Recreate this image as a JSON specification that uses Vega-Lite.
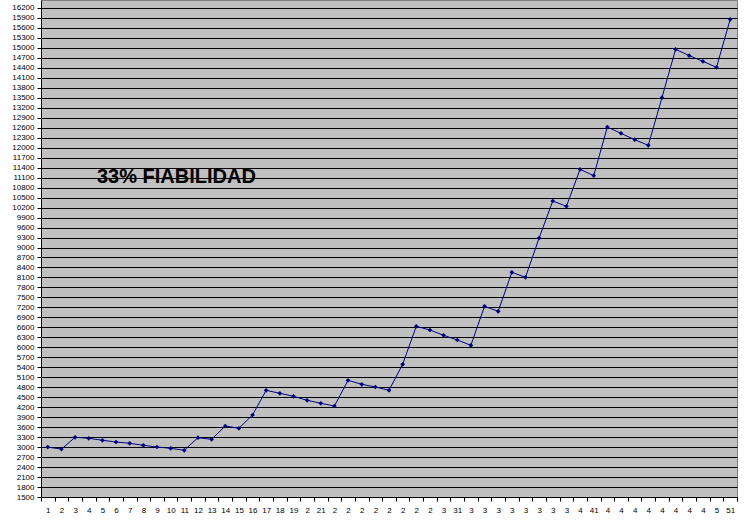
{
  "$schema": "https://vega.github.io/schema/vega-lite/v6.json",
  "width": 696,
  "height": 497,
  "autosize": {"type": "none"},
  "padding": {"left": 41, "top": 0, "right": 7, "bottom": 23},
  "background": "#ffffff",
  "config": {"view": {"fill": "#C0C0C0", "stroke": "#808080", "strokeWidth": 1}},
  "layer": [
    {
      "data": {"values": [
        {"n": 1, "v": 3000}, {"n": 2, "v": 2940}, {"n": 3, "v": 3295}, {"n": 4, "v": 3265}, {"n": 5, "v": 3205},
        {"n": 6, "v": 3153}, {"n": 7, "v": 3114}, {"n": 8, "v": 3054}, {"n": 9, "v": 3003}, {"n": 10, "v": 2964},
        {"n": 11, "v": 2904}, {"n": 12, "v": 3283}, {"n": 13, "v": 3234}, {"n": 14, "v": 3634}, {"n": 15, "v": 3565},
        {"n": 16, "v": 3965}, {"n": 17, "v": 4707}, {"n": 18, "v": 4617}, {"n": 19, "v": 4527}, {"n": 20, "v": 4407},
        {"n": 21, "v": 4317}, {"n": 22, "v": 4235}, {"n": 23, "v": 5008}, {"n": 24, "v": 4888}, {"n": 25, "v": 4807},
        {"n": 26, "v": 4707}, {"n": 27, "v": 5489}, {"n": 28, "v": 6631}, {"n": 29, "v": 6520}, {"n": 30, "v": 6361},
        {"n": 31, "v": 6220}, {"n": 32, "v": 6060}, {"n": 33, "v": 7232}, {"n": 34, "v": 7082}, {"n": 35, "v": 8254},
        {"n": 36, "v": 8104}, {"n": 37, "v": 9286}, {"n": 38, "v": 10398}, {"n": 39, "v": 10238}, {"n": 40, "v": 11351},
        {"n": 41, "v": 11159}, {"n": 42, "v": 12622}, {"n": 43, "v": 12432}, {"n": 44, "v": 12241}, {"n": 45, "v": 12072},
        {"n": 46, "v": 13503}, {"n": 47, "v": 14958}, {"n": 48, "v": 14767}, {"n": 49, "v": 14597}, {"n": 50, "v": 14417},
        {"n": 51, "v": 15860}
      ]},
      "mark": {
        "type": "line",
        "color": "#000080",
        "strokeWidth": 1,
        "point": {"shape": "diamond", "size": 22, "filled": true, "color": "#000080"}
      },
      "encoding": {
        "x": {
          "field": "n",
          "type": "quantitative",
          "scale": {"domain": [0.5, 51.5], "nice": false, "zero": false},
          "axis": {
            "title": null,
            "grid": false,
            "tickCount": 200,
            "values": [0.5,1,1.5,2,2.5,3,3.5,4,4.5,5,5.5,6,6.5,7,7.5,8,8.5,9,9.5,10,10.5,11,11.5,12,12.5,13,13.5,14,14.5,15,15.5,16,16.5,17,17.5,18,18.5,19,19.5,20,20.5,21,21.5,22,22.5,23,23.5,24,24.5,25,25.5,26,26.5,27,27.5,28,28.5,29,29.5,30,30.5,31,31.5,32,32.5,33,33.5,34,34.5,35,35.5,36,36.5,37,37.5,38,38.5,39,39.5,40,40.5,41,41.5,42,42.5,43,43.5,44,44.5,45,45.5,46,46.5,47,47.5,48,48.5,49,49.5,50,50.5,51,51.5],
            "domainColor": "#000000",
            "domainWidth": 1,
            "tickColor": "#000000",
            "tickSize": 4,
            "tickOpacity": {"condition": {"test": "datum.value % 1 == 0", "value": 0}, "value": 1},
            "labelExpr": "datum.value % 1 != 0 ? '' : ((datum.value >= 20 && datum.value % 10 != 1) ? '' + floor(datum.value / 10) : '' + datum.value)",
            "labelFont": "Liberation Sans",
            "labelFontSize": 8,
            "labelColor": "#000000",
            "labelPadding": 5,
            "labelAngle": 0,
            "labelOverlap": false,
            "labelFlush": false
          }
        },
        "y": {
          "field": "v",
          "type": "quantitative",
          "scale": {"domain": [1500, 16440], "nice": false, "zero": false},
          "axis": {
            "title": null,
            "tickCount": 100,
            "values": [1500,1800,2100,2400,2700,3000,3300,3600,3900,4200,4500,4800,5100,5400,5700,6000,6300,6600,6900,7200,7500,7800,8100,8400,8700,9000,9300,9600,9900,10200,10500,10800,11100,11400,11700,12000,12300,12600,12900,13200,13500,13800,14100,14400,14700,15000,15300,15600,15900,16200],
            "format": "d",
            "grid": true,
            "gridColor": "#000000",
            "gridWidth": 1,
            "gridOpacity": 1,
            "domainColor": "#000000",
            "tickColor": "#000000",
            "tickSize": 4,
            "labelFont": "Liberation Sans",
            "labelFontSize": 8,
            "labelColor": "#000000",
            "labelPadding": 3,
            "labelOverlap": false,
            "labelFlush": false
          }
        }
      }
    },
    {
      "data": {"values": [{"label": "33% FIABILIDAD"}]},
      "mark": {
        "type": "text",
        "font": "Liberation Sans",
        "fontSize": 20,
        "fontWeight": "bold",
        "align": "left",
        "baseline": "alphabetic",
        "color": "#000000"
      },
      "encoding": {
        "text": {"field": "label"},
        "x": {"datum": 4.6, "type": "quantitative"},
        "y": {"datum": 10940, "type": "quantitative"}
      }
    }
  ]
}
